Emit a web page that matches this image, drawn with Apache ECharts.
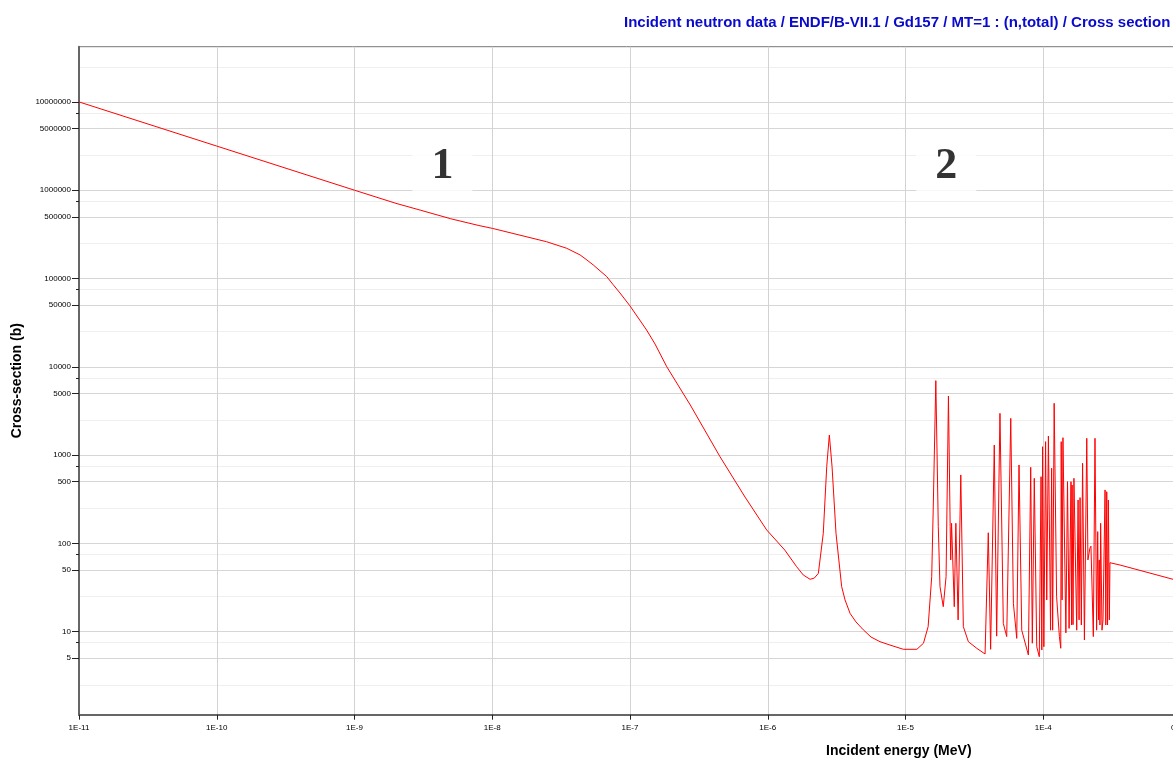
<!DOCTYPE html>
<html>
<head>
<meta charset="utf-8">
<title>Gd157 total cross section</title>
<script src="https://cdn.jsdelivr.net/npm/echarts@6/dist/echarts.min.js"></script>
<style>
	html, body { margin: 0; padding: 0; background: #fff; }
	#chart { width: 1173px; height: 760px; }
</style>
</head>
<body>
<div id="chart"></div>
<script>
	/* incident energy (MeV) */
	var energyMeV = [
		1e-11, 1e-10, 1e-9, 2e-9, 3e-9, 5e-9, 8e-9, 1e-8, 2.48e-8, 3.10e-8,
		3.47e-8, 4.34e-8, 4.87e-8, 5.42e-8, 6.78e-8, 7.53e-8, 8.46e-8, 1.0e-7, 1.32e-7, 1.52e-7,
		1.85e-7, 2.74e-7, 4.50e-7, 6.84e-7, 9.82e-7, 1.33e-6, 1.62e-6, 1.81e-6, 2.03e-6, 2.18e-6,
		2.33e-6, 2.53e-6, 2.68e-6, 2.80e-6, 2.93e-6, 3.13e-6, 3.44e-6, 3.64e-6, 3.96e-6, 4.37e-6,
		4.94e-6, 5.62e-6, 6.53e-6, 7.71e-6, 9.64e-6,
		1.21e-5, 1.35e-5, 1.46e-5, 1.55e-5, 1.59e-5, 1.66e-5, 1.73e-5, 1.78e-5, 1.88e-5, 1.97e-5,
		2.05e-5, 2.11e-5, 2.13e-5, 2.16e-5, 2.26e-5, 2.32e-5, 2.41e-5, 2.52e-5, 2.63e-5, 2.86e-5,
		3.29e-5, 3.78e-5, 3.99e-5, 4.15e-5, 4.41e-5, 4.59e-5, 4.85e-5, 5.13e-5, 5.43e-5, 5.81e-5,
		6.07e-5, 6.42e-5, 6.67e-5, 6.98e-5, 7.80e-5, 8.11e-5, 8.33e-5, 8.61e-5, 8.97e-5, 9.36e-5,
		9.64e-5, 9.76e-5, 9.89e-5, 1.01e-4, 1.04e-4, 1.06e-4, 1.09e-4, 1.13e-4, 1.15e-4, 1.17e-4,
		1.20e-4, 1.25e-4, 1.31e-4, 1.34e-4, 1.35e-4, 1.37e-4, 1.39e-4, 1.46e-4, 1.50e-4, 1.54e-4,
		1.59e-4, 1.605e-4, 1.62e-4, 1.645e-4, 1.67e-4, 1.75e-4, 1.79e-4, 1.82e-4, 1.85e-4, 1.89e-4,
		1.93e-4, 1.99e-4, 2.07e-4, 2.11e-4, 2.18e-4, 2.22e-4, 2.31e-4, 2.375e-4, 2.44e-4, 2.485e-4,
		2.52e-4, 2.55e-4, 2.58e-4, 2.61e-4, 2.67e-4, 2.715e-4, 2.81e-4, 2.845e-4, 2.89e-4, 2.93e-4,
		2.97e-4, 3.02e-4, 3.05e-4, 3.61e-4, 8.75e-4, 1e-3
	];
	/* cross-section (b) */
	var crossSectionB = [
		1.0e7, 3.16e6, 1.0e6, 7.1e5, 5.95e5, 4.75e5, 3.98e5, 3.70e5, 2.61e5, 2.33e5,
		2.20e5, 1.85e5, 1.62e5, 1.42e5, 1.05e5, 8.55e4, 6.85e4, 4.89e4, 2.61e4, 1.81e4,
		1.0e4, 3690, 960, 335, 142, 84, 54.5, 43.9, 39.2, 40.5,
		45.8, 130, 740, 1690, 740, 130, 32.4, 22.9, 16.1, 12.9,
		10.5, 8.7, 7.7, 7.06, 6.32,
		6.32, 7.4, 11.4, 42, 252, 6970, 155, 32.4, 19.2, 42,
		4670, 155, 64.9, 169, 19.2, 169, 13.6, 596, 11.4, 7.7,
		6.49, 5.59, 132, 6.32, 1300, 8.9, 2970, 12.4, 8.8, 2610,
		21, 8.4, 773, 10.4, 5.45, 728, 7.4, 546, 6.76, 5.21,
		569, 6.2, 1245, 6.76, 1420, 22.9, 1645, 10.4, 710, 10.4,
		3860, 24.9, 8.8, 6.49, 1420, 22.9, 1575, 9.7, 500, 10.9,
		500, 11.9, 458, 12, 546, 10.4, 310, 13.6, 330, 11.9,
		808, 8.05, 1550, 65, 88, 93, 8.8, 1550, 10.4, 136,
		13.6, 65, 11.9, 169, 10.4, 13.6, 403, 11.9, 385, 11.9,
		310, 13.6, 60.4, 56.9, 39.2, 37.5
	];

	/* axis ticks */
	var xTickValues = [1e-11, 1e-10, 1e-9, 1e-8, 1e-7, 1e-6, 1e-5, 1e-4, 1e-3, 1e-2, 1e-1, 1];
	var yLabelValues = [5, 10, 50, 100, 500, 1000, 5000, 10000, 50000, 100000,
		500000, 1000000, 5000000, 10000000];
	var yThreeQuarterValues = [7.5, 75, 750, 7500, 75000, 750000, 7500000];
	var yQuarterValues = [2.5, 25, 250, 2500, 25000, 250000, 2500000, 25000000];

	/* region markers */
	var regionNames = ['1', '2'];
	var regionEnergy = [4.35e-9, 1.98e-5];
	var regionSigma = [1.83e6, 1.83e6];

	var xMin = 1e-11, xMax = 8;
	var yMin = 1.148, yMax = 4.22e7;

	var curve = [];
	for (var i = 0; i < energyMeV.length; i++) {
		curve.push([energyMeV[i], crossSectionB[i]]);
	}
	var regions = [];
	for (var j = 0; j < regionNames.length; j++) {
		regions.push({ name: regionNames[j], value: [regionEnergy[j], regionSigma[j]] });
	}

	var font = 'Liberation Sans, Arial, sans-serif';

	/*y轴公共配置*/
	function logYAxis(extra) {
		var axis = {
			type: 'log',
			logBase: 10,
			min: yMin,
			max: yMax,
			position: 'left',
			axisLine: { show: false },
			axisLabel: { show: false },
			axisTick: { show: false },
			splitLine: { show: false }
		};
		return echarts.util.merge(axis, extra, true);
	}

	var chart = echarts.init(document.getElementById('chart'), null, { renderer: 'canvas' });
	var option = {
		animation: false,
		backgroundColor: '#ffffff',
		title: {
			text: 'Incident neutron data / ENDF/B-VII.1 / Gd157 / MT=1 : (n,total) / Cross section',
			left: 624,
			top: 15,
			padding: 0,
			textStyle: { color: '#0a0acc', fontSize: 15, fontWeight: 'bold', fontFamily: font }
		},
		grid: {
			left: 79,
			top: 46.7,
			height: 668,
			width: 137.75 * (Math.log10(xMax) + 11), // 绘图区比画布宽，右侧被截断
			outerBoundsMode: 'none',
			containLabel: false,
			show: true,
			borderColor: '#777',
			borderWidth: 1,
			backgroundColor: 'transparent'
		},
		xAxis: {
			type: 'log',
			logBase: 10,
			min: xMin,
			max: xMax,
			name: 'Incident energy (MeV)',
			nameLocation: 'middle',
			nameGap: 29,
			nameTextStyle: { color: '#000', fontSize: 14, fontWeight: 'bold', fontFamily: font },
			axisLine: { lineStyle: { color: '#666', width: 2 } },
			axisTick: { customValues: xTickValues, length: 5, lineStyle: { color: '#222' } },
			axisLabel: {
				customValues: xTickValues,
				margin: 9,
				color: '#000',
				fontSize: 8,
				fontFamily: font,
				formatter: function (v) {
					var e = Math.round(Math.log10(v));
					return e <= -4 ? '1E' + e : String(Math.pow(10, e).toFixed(Math.max(0, -e)));
				}
			},
			splitLine: { show: true, lineStyle: { color: '#d2d2d2', width: 1 } }
		},
		yAxis: [
			logYAxis({
				name: 'Cross-section (b)',
				nameLocation: 'middle',
				nameGap: 54,
				nameTextStyle: { color: '#000', fontSize: 14, fontWeight: 'bold', fontFamily: font },
				axisLine: { show: true, lineStyle: { color: '#666', width: 2 } },
				axisTick: { show: true, customValues: yLabelValues, length: 7, lineStyle: { color: '#222' } },
				axisLabel: {
					show: true,
					customValues: yLabelValues,
					margin: 8,
					color: '#000',
					fontSize: 8,
					fontFamily: font,
					formatter: function (v) { return String(Math.round(v)); }
				},
				splitLine: { show: true, lineStyle: { color: '#d6d6d6', width: 1 } }
			}),
			logYAxis({
				axisTick: { show: true, customValues: yThreeQuarterValues, length: 3, lineStyle: { color: '#222' } },
				splitLine: { show: true, lineStyle: { color: '#efefef', width: 1 } }
			}),
			logYAxis({
				axisTick: { show: false, customValues: yQuarterValues },
				splitLine: { show: true, lineStyle: { color: '#efefef', width: 1 } }
			})
		],
		series: [
			{
				name: 'n,total',
				type: 'line',
				yAxisIndex: 0,
				data: curve,
				showSymbol: false,
				symbol: 'none',
				sampling: null,
				lineStyle: { color: '#ff0000', width: 1 },
				silent: true,
				z: 2
			},
			{
				name: 'regions',
				type: 'scatter',
				yAxisIndex: 0,
				data: regions,
				symbol: 'rect',
				symbolSize: [60, 52],
				itemStyle: { color: '#ffffff' },
				label: {
					show: true,
					position: 'inside',
					formatter: '{b}',
					color: '#000',
					fontSize: 44,
					fontWeight: 'bold',
					fontFamily: 'Liberation Serif, Times New Roman, serif'
				},
				silent: true,
				z: 3
			}
		]
	};
	chart.setOption(option);
</script>
</body>
</html>
